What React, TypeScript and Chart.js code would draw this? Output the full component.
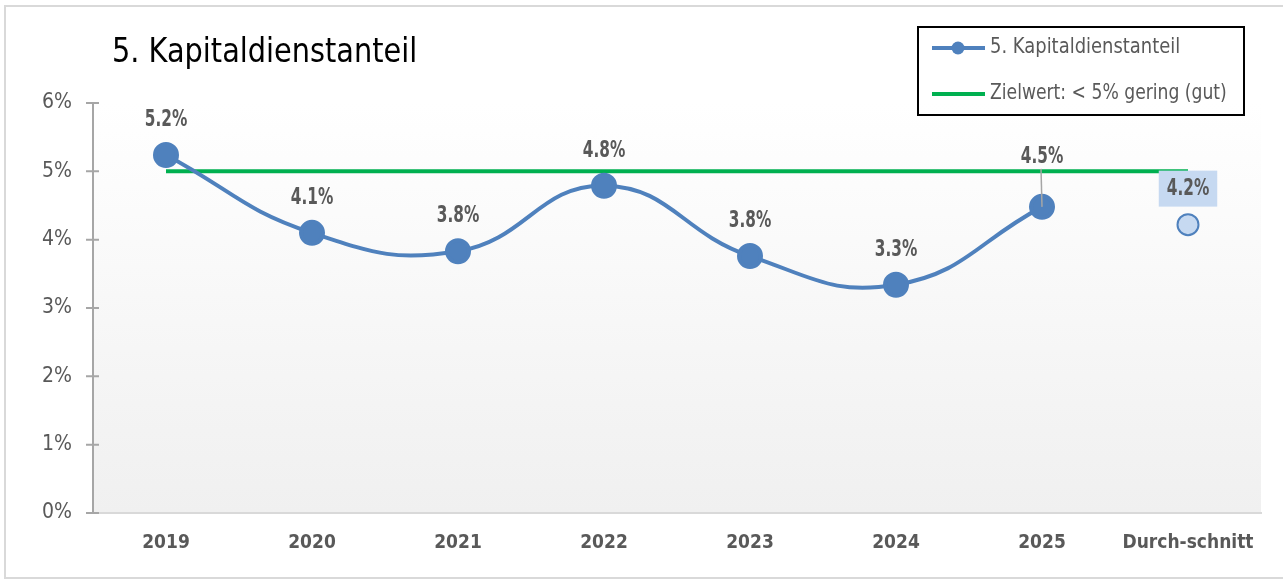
import React, { useEffect, useRef } from "react";
import { Chart, registerables } from "chart.js";

Chart.register(...registerables);

const categories = ["2019", "2020", "2021", "2022", "2023", "2024", "2025", "Durch-schnitt"];
const seriesValues = [5.24, 4.1, 3.83, 4.79, 3.76, 3.34, 4.48];
const seriesLabels = ["5.2%", "4.1%", "3.8%", "4.8%", "3.8%", "3.3%", "4.5%"];
const averageValue = 4.22;
const averageLabel = "4.2%";
const targetValue = 5;
const yTicks = [0, 1, 2, 3, 4, 5, 6];
const seriesName = "5. Kapitaldienstanteil";
const targetName = "Zielwert: < 5% gering (gut)";
const title = "5. Kapitaldienstanteil";

const FONT = '"Liberation Sans Narrow", "DejaVu Sans Condensed", "Arial Narrow", sans-serif';
const BLUE = "#4f81bd";
const GREEN = "#00b050";
const TEXT = "#595959";

function narrowText(ctx: any, text: string, x: number, y: number, sx: number) {
  ctx.save();
  ctx.translate(x, y);
  ctx.scale(sx, 1);
  ctx.fillText(text, 0, 0);
  ctx.restore();
}

export default function App() {
  const ref = useRef<HTMLCanvasElement | null>(null);

  useEffect(() => {
    document.body.style.margin = "0";
    const canvas = ref.current!;

    const decor = {
      id: "decor",
      beforeDraw(chart: any) {
        const { ctx, chartArea } = chart;
        const { left, right, top, bottom } = chartArea;
        ctx.save();
        ctx.fillStyle = "#ffffff";
        ctx.fillRect(0, 0, chart.width, chart.height);
        ctx.strokeStyle = "#d9d9d9";
        ctx.lineWidth = 2;
        ctx.beginPath();
        ctx.moveTo(5, 580);
        ctx.lineTo(5, 6);
        ctx.lineTo(1290, 6);
        ctx.moveTo(5, 578);
        ctx.lineTo(1290, 578);
        ctx.stroke();
        const g = ctx.createLinearGradient(0, top, 0, bottom);
        g.addColorStop(0, "#ffffff");
        g.addColorStop(1, "#f0f0f0");
        ctx.fillStyle = g;
        ctx.fillRect(left, top, right - left, bottom - top);
        // title
        ctx.fillStyle = "#000000";
        ctx.font = `33px ${FONT}`;
        ctx.textAlign = "left";
        ctx.textBaseline = "middle";
        narrowText(ctx, title, 112, 53, 0.97);
        // legend box
        ctx.strokeStyle = "#000000";
        ctx.lineWidth = 2;
        ctx.strokeRect(918, 27, 326, 88);
        ctx.lineWidth = 4;
        ctx.strokeStyle = BLUE;
        ctx.beginPath();
        ctx.moveTo(932, 48);
        ctx.lineTo(985, 48);
        ctx.stroke();
        ctx.fillStyle = BLUE;
        ctx.beginPath();
        ctx.arc(958, 48, 6.5, 0, Math.PI * 2);
        ctx.fill();
        ctx.strokeStyle = GREEN;
        ctx.beginPath();
        ctx.moveTo(932, 94);
        ctx.lineTo(985, 94);
        ctx.stroke();
        ctx.fillStyle = TEXT;
        ctx.font = `21px ${FONT}`;
        narrowText(ctx, seriesName, 990, 48, 0.95);
        narrowText(ctx, targetName, 990, 94, 0.91);
        ctx.restore();
      },
      afterDraw(chart: any) {
        const { ctx } = chart;
        const y = chart.scales.y;
        const x = chart.scales.x;
        ctx.save();
        ctx.strokeStyle = "#a6a6a6";
        ctx.lineWidth = 2;
        ctx.beginPath();
        yTicks.forEach((t) => {
          const py = y.getPixelForValue(t);
          ctx.moveTo(x.left - 7, py);
          ctx.lineTo(x.left + 6, py);
        });
        ctx.stroke();
        ctx.restore();
      },
    };

    const SX = 0.74;
    const labelsPlugin = {
      id: "labels",
      afterDatasetsDraw(chart: any) {
        const { ctx } = chart;
        const meta0 = chart.getDatasetMeta(0);
        const meta2 = chart.getDatasetMeta(2);
        ctx.save();
        ctx.font = `bold 23px ${FONT}`;
        ctx.textAlign = "center";
        ctx.textBaseline = "middle";
        seriesLabels.forEach((lab, i) => {
          const p = meta0.data[i];
          let dy = 35;
          if (i === 6) {
            dy = 50;
            ctx.strokeStyle = "#a6a6a6";
            ctx.lineWidth = 1.5;
            ctx.beginPath();
            ctx.moveTo(p.x - 1, p.y - 38);
            ctx.lineTo(p.x, p.y);
            ctx.stroke();
          }
          ctx.fillStyle = TEXT;
          narrowText(ctx, lab, p.x, p.y - dy, SX);
        });
        const pa = meta2.data[7];
        const w = ctx.measureText(averageLabel).width * SX + 16;
        ctx.fillStyle = "#c6d9f1";
        ctx.fillRect(pa.x - w / 2, pa.y - 54, w, 36);
        ctx.fillStyle = TEXT;
        narrowText(ctx, averageLabel, pa.x, pa.y - 36, SX);
        ctx.restore();
      },
    };

    const chart = new Chart(canvas, {
      type: "line",
      data: {
        labels: categories,
        datasets: [
          {
            label: seriesName,
            data: [...seriesValues, null],
            borderColor: BLUE,
            backgroundColor: BLUE,
            borderWidth: 4,
            pointRadius: 11,
            pointBackgroundColor: BLUE,
            pointBorderColor: BLUE,
            tension: 0.45,
            order: 1,
          },
          {
            label: targetName,
            data: categories.map(() => targetValue),
            borderColor: GREEN,
            borderWidth: 4,
            pointRadius: 0,
            tension: 0,
            order: 2,
          },
          {
            label: "avg",
            data: [null, null, null, null, null, null, null, averageValue],
            borderColor: BLUE,
            backgroundColor: "#c6d9f1",
            pointRadius: 10.5,
            pointBorderWidth: 2,
            pointBackgroundColor: "#c6d9f1",
            pointBorderColor: BLUE,
            showLine: false,
            order: 0,
          },
        ],
      },
      options: {
        animation: false,
        responsive: false,
        maintainAspectRatio: false,
        devicePixelRatio: 1,
        layout: { padding: { left: 0, top: 103, right: 22, bottom: 0 } },
        plugins: { legend: { display: false }, tooltip: { enabled: false }, title: { display: false } },
        scales: {
          x: {
            offset: true,
            grid: { display: false, drawTicks: false },
            border: { display: true, color: "#d9d9d9", width: 2 },
            ticks: {
              color: TEXT,
              font: { family: FONT, size: 19, weight: "bold" },
              padding: 19,
              maxRotation: 0,
              autoSkip: false,
            },
            afterFit(scale: any) {
              scale.height = 66;
            },
          },
          y: {
            min: 0,
            max: 6,
            grid: { display: false, drawTicks: false },
            border: { display: true, color: "#a6a6a6", width: 2 },
            ticks: {
              stepSize: 1,
              color: TEXT,
              font: { family: FONT, size: 21 },
              padding: 21,
              callback: (v: any) => `${v}%`,
            },
            afterFit(scale: any) {
              scale.width = 93;
            },
          },
        },
      },
      plugins: [decor, labelsPlugin],
    } as any);

    return () => chart.destroy();
  }, []);

  return (
    <div style={{ position: "absolute", left: 0, top: 0, width: 1283, height: 579 }}>
      <canvas ref={ref} width={1283} height={579} style={{ width: 1283, height: 579 }} />
    </div>
  );
}
